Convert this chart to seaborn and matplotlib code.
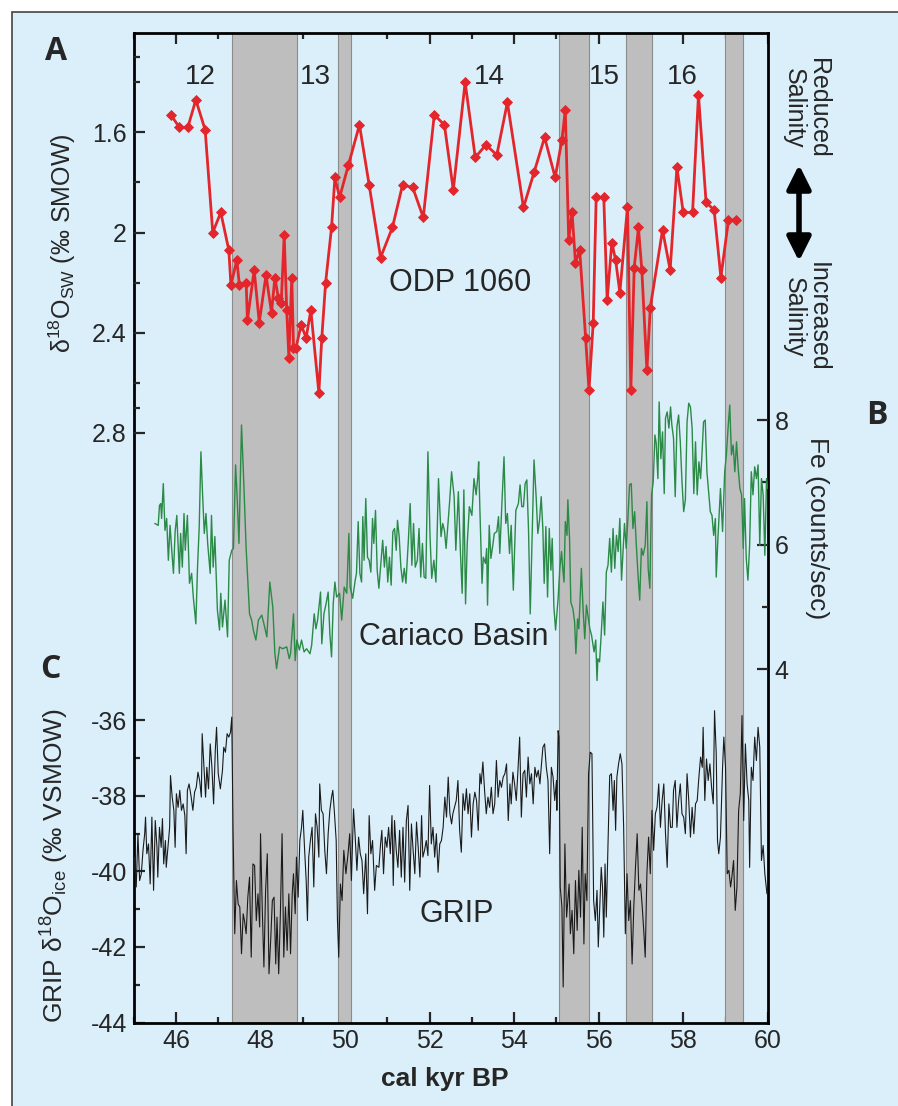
import numpy as np
import pandas as pd
import matplotlib
matplotlib.use("Agg")
import matplotlib.pyplot as plt
from matplotlib.patches import Rectangle, FancyArrowPatch
import seaborn as sns

# ------------------------------------------------------------
# Data
# ------------------------------------------------------------

# ODP 1060 seawater d18O (permil SMOW)
ODP_AGE = [45.88, 46.08, 46.28, 46.47, 46.69, 46.87, 47.06, 47.25, 47.30, 47.44,
           47.50, 47.66, 47.69, 47.85, 47.97, 48.13, 48.26, 48.34, 48.42, 48.49,
           48.56, 48.62, 48.67, 48.74, 48.78, 48.84, 48.96, 49.08, 49.19, 49.38,
           49.45, 49.54, 49.68, 49.76, 49.87, 50.08, 50.34, 50.57, 50.84, 51.12,
           51.36, 51.60, 51.85, 52.11, 52.35, 52.56, 52.84, 53.08, 53.33, 53.59,
           53.84, 54.22, 54.47, 54.72, 54.97, 55.13, 55.21, 55.29, 55.37, 55.45,
           55.55, 55.69, 55.77, 55.87, 55.94, 56.12, 56.20, 56.31, 56.40, 56.50,
           56.68, 56.76, 56.84, 56.94, 57.02, 57.14, 57.22, 57.51, 57.69, 57.85,
           58.00, 58.22, 58.36, 58.54, 58.73, 58.89, 59.07, 59.25]
ODP_D18O = [1.53, 1.58, 1.58, 1.47, 1.59, 2.00, 1.92, 2.07, 2.21, 2.11,
            2.21, 2.20, 2.35, 2.15, 2.36, 2.17, 2.32, 2.18, 2.26, 2.28,
            2.01, 2.31, 2.50, 2.18, 2.46, 2.46, 2.37, 2.42, 2.31, 2.64,
            2.42, 2.20, 1.98, 1.78, 1.86, 1.73, 1.57, 1.81, 2.10, 1.98,
            1.81, 1.82, 1.94, 1.53, 1.57, 1.83, 1.40, 1.70, 1.65, 1.69,
            1.48, 1.90, 1.76, 1.62, 1.78, 1.63, 1.51, 2.03, 1.92, 2.12,
            2.07, 2.42, 2.63, 2.36, 1.86, 1.86, 2.27, 2.04, 2.11, 2.24,
            1.90, 2.63, 2.14, 1.98, 2.15, 2.55, 2.30, 1.99, 2.15, 1.74,
            1.92, 1.92, 1.45, 1.88, 1.91, 2.18, 1.95, 1.95]

# Cariaco Basin Fe (counts/sec)
FE_AGE = [45.50, 45.58, 45.61, 45.64, 45.66, 45.70, 45.74, 45.78, 45.82, 45.86,
          45.90, 45.94, 45.98, 46.02, 46.06, 46.08, 46.11, 46.15, 46.19, 46.22,
          46.27, 46.32, 46.37, 46.41, 46.47, 46.51, 46.55, 46.59, 46.63, 46.67,
          46.71, 46.75, 46.81, 46.84, 46.88, 46.92, 46.98, 47.03, 47.06, 47.10,
          47.16, 47.22, 47.26, 47.32, 47.36, 47.41, 47.45, 47.49, 47.55, 47.59,
          47.66, 47.69, 47.74, 47.79, 47.83, 47.89, 47.95, 48.03, 48.08, 48.15,
          48.22, 48.29, 48.34, 48.38, 48.45, 48.52, 48.62, 48.68, 48.71, 48.78,
          48.82, 48.86, 48.92, 48.97, 49.03, 49.09, 49.17, 49.21, 49.27, 49.31,
          49.35, 49.42, 49.45, 49.50, 49.55, 49.60, 49.64, 49.68, 49.72, 49.76,
          49.80, 49.87, 49.92, 49.98, 50.04, 50.09,
          50.12, 50.18, 50.24, 50.27, 50.31, 50.35, 50.39, 50.42, 50.45, 50.49,
          50.53, 50.57, 50.61, 50.65, 50.68, 50.72, 50.76, 50.80, 50.84, 50.89,
          50.93, 50.97, 51.01, 51.05, 51.09, 51.13, 51.17, 51.21, 51.24, 51.28,
          51.32, 51.36, 51.40, 51.44, 51.50, 51.54, 51.58, 51.62, 51.66, 51.71,
          51.75, 51.79, 51.83, 51.87, 51.91, 51.96, 52.01, 52.05, 52.10, 52.15,
          52.21, 52.27, 52.31, 52.35, 52.39, 52.43, 52.47, 52.52, 52.58, 52.62,
          52.68, 52.73, 52.77, 52.81, 52.85, 52.89, 52.94, 53.00, 53.05, 53.10,
          53.14, 53.16, 53.19, 53.24, 53.27, 53.32, 53.35, 53.37, 53.41, 53.45,
          53.49, 53.53, 53.59, 53.63, 53.66, 53.71, 53.76, 53.80, 53.84, 53.89,
          53.93, 53.98, 54.04, 54.10, 54.14, 54.18, 54.22, 54.26, 54.30, 54.34,
          54.38, 54.42, 54.47, 54.52, 54.56, 54.60, 54.64, 54.68, 54.71, 54.75,
          54.79, 54.83, 54.87, 54.90, 54.94, 54.98,
          55.04, 55.08, 55.12, 55.15, 55.18, 55.21, 55.25, 55.27, 55.31, 55.34,
          55.39, 55.43, 55.46, 55.50, 55.53, 55.59, 55.63, 55.67, 55.71, 55.79,
          55.83, 55.89, 55.93, 55.96, 55.98, 56.02, 56.06, 56.10, 56.14, 56.18,
          56.22, 56.26, 56.30, 56.34, 56.38, 56.42, 56.46, 56.50, 56.54, 56.58,
          56.61, 56.65, 56.69, 56.73, 56.77, 56.81, 56.85, 56.89, 56.93, 56.97,
          57.01, 57.05, 57.10, 57.14, 57.17, 57.21, 57.25, 57.29, 57.33, 57.36,
          57.40, 57.43, 57.47, 57.51, 57.55, 57.58, 57.62, 57.66, 57.70, 57.73,
          57.77, 57.81, 57.85, 57.89, 57.93, 57.97, 58.01, 58.05, 58.09, 58.13,
          58.17, 58.21, 58.25, 58.29, 58.33, 58.37, 58.41, 58.44, 58.48, 58.52,
          58.56, 58.60, 58.64, 58.68, 58.72, 58.76, 58.78, 58.82, 58.88, 58.93,
          58.98, 59.02, 59.06, 59.10, 59.14, 59.18, 59.22, 59.26, 59.30, 59.34,
          59.38, 59.42, 59.45, 59.49, 59.53, 59.57, 59.61, 59.65, 59.69, 59.73,
          59.77, 59.81, 59.85, 59.89, 59.93, 59.97, 60.00]
FE_COUNTS = [6.34, 6.31, 6.63, 6.66, 6.42, 6.98, 6.23, 6.42, 5.75, 6.31,
             5.91, 5.54, 6.21, 6.47, 5.86, 5.54, 6.18, 5.64, 6.50, 5.91,
             6.47, 5.38, 5.54, 5.16, 4.73, 5.64, 6.29, 7.49, 6.80, 6.18,
             6.50, 6.02, 5.54, 6.47, 5.64, 6.13, 4.95, 4.63, 5.22, 4.68,
             5.11, 4.52, 5.75, 5.91, 5.94, 7.28, 6.71, 6.02, 7.92, 7.25,
             5.94, 5.54, 4.89, 4.79, 4.63, 4.47, 4.79, 4.87, 4.73, 4.52,
             5.40, 5.00, 4.25, 4.01, 4.36, 4.33, 4.36, 4.17, 4.25, 4.89,
             4.14, 4.47, 4.31, 4.47, 4.28, 4.33, 4.25, 4.39, 4.89, 4.65,
             4.79, 5.24, 4.41, 4.89, 5.05, 5.24, 4.57, 4.20, 5.05, 5.40,
             5.16, 5.22, 4.79, 5.32, 5.22, 6.18,
             5.32, 5.14, 5.43, 5.54, 6.37, 5.54, 5.40, 6.45, 5.75, 6.74,
             5.80, 5.75, 5.56, 6.42, 6.02, 6.55, 5.59, 5.30, 5.64, 6.07,
             5.64, 5.97, 5.40, 5.80, 5.35, 6.21, 6.26, 5.91, 6.39, 6.13,
             5.64, 5.40, 5.62, 5.38, 6.10, 6.66, 5.67, 6.34, 5.64, 5.75,
             6.26, 5.48, 6.02, 5.48, 5.46, 7.49, 6.13, 5.46, 5.75, 5.40,
             7.06, 6.13, 6.34, 6.23, 5.94, 6.29, 6.66, 7.17, 6.77, 5.91,
             6.85, 5.86, 5.22, 6.88, 5.05, 6.02, 6.61, 6.47, 7.06, 6.80,
             7.09, 7.33, 6.55, 5.38, 5.80, 5.70, 5.94, 5.03, 6.31, 5.78,
             5.97, 6.18, 6.21, 6.45, 5.86, 6.66, 7.41, 6.34, 6.50, 5.86,
             6.31, 5.27, 6.55, 6.66, 6.96, 6.61, 6.61, 6.98, 7.04, 6.23,
             4.89, 6.02, 7.36, 6.77, 6.18, 6.39, 6.77, 6.23, 5.38, 6.29,
             5.16, 6.26, 5.59, 6.10, 5.00, 4.63,
             5.14, 5.62, 5.89, 5.62, 5.40, 6.37, 6.15, 6.72, 6.10, 5.08,
             4.97, 4.76, 4.25, 4.81, 4.65, 5.62, 4.97, 4.49, 5.03, 4.65,
             4.55, 4.28, 4.47, 3.82, 4.17, 4.12, 4.57, 5.08, 4.55, 5.56,
             5.67, 6.10, 5.56, 6.26, 5.62, 6.15, 5.89, 6.42, 5.43, 5.94,
             6.34, 5.94, 6.42, 6.96, 6.98, 6.26, 6.53, 5.99, 5.51, 5.11,
             5.94, 5.83, 5.99, 6.69, 5.62, 5.30, 6.80, 7.01, 7.76, 7.63,
             7.06, 8.29, 7.38, 7.81, 6.82, 8.03, 8.13, 7.87, 8.21, 7.92,
             7.71, 6.77, 7.89, 8.08, 7.65, 7.01, 6.53, 6.72, 7.97, 8.27,
             8.21, 7.87, 6.82, 7.65, 6.80, 7.33, 7.06, 7.41, 7.97, 8.00,
             7.17, 6.85, 6.53, 6.47, 6.15, 6.42, 5.48, 6.10, 6.90, 6.21,
             7.17, 7.44, 7.87, 8.24, 7.44, 7.60, 7.17, 7.65, 7.22, 6.90,
             6.80, 5.94, 6.74, 5.78, 5.43, 5.99, 7.17, 6.80, 7.25, 7.06,
             7.28, 5.99, 7.06, 6.80, 5.83, 7.06, 6.90]

# GRIP ice d18O (permil VSMOW)
GRIP_AGE = [45.00, 45.02, 45.06, 45.10, 45.14, 45.18, 45.22, 45.26, 45.28, 45.31,
            45.35, 45.39, 45.43, 45.47, 45.51, 45.55, 45.57, 45.61, 45.65, 45.68,
            45.71, 45.75, 45.77, 45.81, 45.85, 45.87, 45.91, 45.95, 45.98, 46.01,
            46.05, 46.09, 46.13, 46.17, 46.21, 46.24, 46.27, 46.31, 46.36, 46.40,
            46.44, 46.48, 46.52, 46.56, 46.60, 46.62, 46.66, 46.70, 46.73, 46.77,
            46.81, 46.85, 46.89, 46.93, 46.96, 47.00, 47.05, 47.10, 47.13, 47.17,
            47.21, 47.25, 47.29, 47.32, 47.35, 47.39, 47.43, 47.47, 47.51, 47.55,
            47.59, 47.62, 47.66, 47.70, 47.74, 47.78, 47.82, 47.86, 47.90, 47.94,
            47.98, 48.00, 48.04, 48.08, 48.12, 48.16, 48.20, 48.24, 48.28, 48.32,
            48.36, 48.39, 48.43, 48.47, 48.51, 48.55, 48.59, 48.63, 48.67, 48.71,
            48.75, 48.78, 48.82, 48.85, 48.89, 48.93, 48.97, 49.00, 49.04, 49.08,
            49.11, 49.14, 49.18, 49.22, 49.26, 49.30, 49.34, 49.38, 49.40, 49.44,
            49.48, 49.52, 49.56, 49.60, 49.64, 49.68, 49.71, 49.75, 49.79, 49.82,
            49.85, 49.89, 49.93, 49.97,
            50.02, 50.07, 50.11, 50.15, 50.20, 50.24, 50.28, 50.32, 50.36,
            50.40, 50.44, 50.49, 50.53, 50.57, 50.61, 50.65, 50.70, 50.74, 50.80,
            50.84, 50.87, 50.91, 50.95, 50.99, 51.03, 51.07, 51.11, 51.14, 51.17,
            51.21, 51.25, 51.29, 51.33, 51.37, 51.41, 51.45, 51.49, 51.53, 51.57,
            51.61, 51.65, 51.69, 51.73, 51.77, 51.81, 51.84, 51.88, 51.92, 51.96,
            52.00, 52.04, 52.08, 52.12, 52.16, 52.20, 52.24, 52.28, 52.32, 52.36,
            52.40, 52.44, 52.48, 52.52, 52.55, 52.59, 52.63, 52.67, 52.71, 52.75,
            52.79, 52.83, 52.87, 52.91, 52.95, 52.99, 53.03, 53.07, 53.11, 53.15,
            53.19, 53.22, 53.26, 53.30, 53.34, 53.38, 53.42, 53.46, 53.50, 53.54,
            53.58, 53.62, 53.66, 53.70, 53.74, 53.78, 53.82, 53.86, 53.90, 53.93,
            53.97, 54.01, 54.05, 54.09, 54.13, 54.17, 54.21, 54.25, 54.29, 54.33,
            54.37, 54.41, 54.45, 54.49, 54.53, 54.57, 54.61, 54.64, 54.68, 54.72,
            54.76, 54.80, 54.84, 54.88,
            54.92, 54.96, 55.00, 55.01, 55.04, 55.06, 55.09, 55.13, 55.16, 55.20,
            55.24, 55.27, 55.30, 55.33, 55.37, 55.41, 55.45, 55.49, 55.53, 55.57,
            55.61, 55.65, 55.68, 55.72, 55.76, 55.80, 55.84, 55.88, 55.92, 55.96,
            55.99, 56.02, 56.06, 56.09, 56.12, 56.15, 56.18, 56.22, 56.26, 56.30,
            56.34, 56.37, 56.40, 56.43, 56.47, 56.51, 56.55, 56.59, 56.63, 56.67,
            56.71, 56.75, 56.79, 56.83, 56.87, 56.91, 56.95, 56.99, 57.03, 57.07,
            57.10, 57.14, 57.18, 57.22, 57.26, 57.30, 57.34, 57.38, 57.42, 57.46,
            57.50, 57.54, 57.58, 57.62, 57.66, 57.70, 57.74, 57.77, 57.81, 57.85,
            57.89, 57.93, 57.97, 58.01, 58.05, 58.09, 58.13, 58.17, 58.21, 58.25,
            58.29, 58.33, 58.37, 58.41, 58.45, 58.47, 58.51, 58.55, 58.59, 58.63,
            58.67, 58.71, 58.74, 58.78, 58.81, 58.84, 58.88, 58.93, 58.96, 59.00,
            59.04, 59.08, 59.12, 59.15, 59.19, 59.23, 59.27, 59.31, 59.35, 59.39,
            59.43, 59.47, 59.51, 59.55, 59.57, 59.61, 59.65, 59.69, 59.73, 59.77,
            59.81, 59.85, 59.89, 59.93, 59.98]
GRIP_D18O = [-40.06, -39.62, -40.41, -39.00, -40.24, -40.06, -39.44, -39.00, -38.56, -39.53,
             -39.27, -40.33, -38.56, -40.50, -38.65, -39.36, -40.15, -38.83, -39.36, -38.60,
             -39.80, -39.18, -39.89, -39.36, -38.83, -37.46, -38.03, -38.38, -39.36, -37.94,
             -38.30, -37.85, -38.38, -38.21, -38.52, -39.53, -37.85, -37.68, -38.03, -38.38,
             -37.90, -37.77, -37.37, -37.59, -38.03, -36.35, -37.19, -38.03, -37.24, -37.81,
             -36.62, -37.24, -38.21, -36.79, -36.18, -37.41, -37.81, -37.32, -36.71, -36.84,
             -36.35, -36.44, -36.31, -35.91, -38.91, -41.65, -40.24, -40.86, -40.94, -42.18,
             -41.12, -41.30, -41.65, -40.68, -40.15, -42.27, -39.80, -39.84, -41.30, -40.59,
             -41.47, -39.00, -40.94, -42.53, -40.50, -39.53, -42.71, -41.83, -40.77, -40.68,
             -42.45, -41.21, -42.71, -41.12, -39.00, -42.27, -40.94, -42.09, -40.59, -42.18,
             -40.59, -40.06, -41.12, -39.62, -40.68, -39.18, -38.83, -38.38, -39.36, -40.24,
             -41.30, -39.62, -39.18, -38.83, -40.41, -38.47, -38.83, -39.62, -37.68, -38.38,
             -38.47, -39.44, -40.06, -39.00, -38.38, -38.03, -37.85, -38.47, -39.18, -41.30,
             -42.27, -40.33, -40.77, -39.44,
             -40.06, -39.53, -39.00, -40.24, -38.34, -39.09, -39.97, -39.09, -39.53,
             -39.71, -40.59, -39.53, -41.12, -38.52, -39.53, -39.18, -40.50, -39.84, -39.89,
             -39.27, -38.91, -40.06, -39.09, -39.36, -38.83, -39.53, -38.52, -40.37, -38.65,
             -39.44, -39.89, -38.91, -40.15, -38.83, -40.28, -38.65, -38.25, -40.50, -38.74,
             -39.44, -40.06, -38.69, -39.36, -40.15, -38.52, -39.62, -39.44, -39.18, -39.58,
             -37.72, -39.27, -38.83, -39.62, -39.00, -40.02, -39.27, -39.18, -38.83, -38.03,
             -38.56, -37.50, -38.47, -38.74, -38.47, -38.30, -38.12, -37.59, -38.91, -39.49,
             -37.94, -38.38, -37.81, -38.47, -37.94, -39.09, -38.21, -37.90, -38.12, -38.91,
             -37.41, -37.68, -37.10, -37.85, -38.47, -38.03, -38.30, -37.77, -38.47, -38.21,
             -37.06, -38.03, -37.59, -37.77, -37.50, -37.41, -37.15, -38.65, -37.68, -38.21,
             -37.37, -37.68, -38.12, -37.32, -36.44, -38.56, -37.41, -37.32, -38.03, -36.97,
             -37.68, -37.41, -38.21, -37.24, -37.50, -37.32, -37.68, -37.24, -36.71, -36.62,
             -37.24, -37.59, -39.53, -37.24,
             -37.50, -38.12, -37.59, -38.38, -36.27, -36.44, -40.41, -40.94, -43.06, -39.27,
             -41.21, -40.77, -40.33, -41.65, -41.03, -42.18, -40.24, -41.56, -39.97, -41.21,
             -38.83, -41.92, -40.06, -40.77, -37.41, -36.84, -36.88, -40.77, -41.30, -40.50,
             -42.00, -41.12, -39.89, -40.41, -41.74, -39.80, -41.21, -39.27, -37.46, -37.41,
             -38.38, -37.59, -38.91, -37.50, -37.15, -36.88, -37.15, -38.83, -41.65, -40.06,
             -41.30, -40.77, -42.45, -40.94, -39.89, -39.00, -40.50, -40.33, -40.94, -41.65,
             -42.27, -40.06, -39.09, -40.06, -38.38, -39.44, -38.47, -38.30, -37.68, -38.83,
             -38.12, -37.68, -39.00, -39.89, -38.21, -38.83, -38.83, -37.85, -37.59, -38.83,
             -38.12, -37.68, -38.47, -38.56, -39.00, -37.41, -38.12, -39.09, -38.30, -39.00,
             -38.21, -38.12, -37.50, -36.97, -37.24, -36.18, -38.12, -37.02, -37.59, -37.15,
             -37.77, -38.21, -35.74, -36.88, -39.18, -39.53, -39.09, -37.24, -36.44, -37.24,
             -40.06, -39.97, -40.41, -40.15, -39.71, -41.03, -40.41, -38.38, -37.94, -35.87,
             -38.65, -36.62, -37.68, -38.12, -39.89, -37.24, -37.59, -36.44, -37.06, -36.18,
             -36.71, -39.71, -39.31, -40.06, -40.59]

# Stadial intervals (cal kyr BP)
BAND_START = [47.33, 49.83, 55.05, 56.65, 58.98]
BAND_END = [48.87, 50.15, 55.78, 57.25, 59.41]

# Interstadial numbers
IS_LABELS = ["12", "13", "14", "15", "16"]
IS_AGE = [46.58, 49.30, 53.41, 56.13, 57.98]

X_TICKS = [46, 48, 50, 52, 54, 56, 58, 60]
SW_TICKS = [1.6, 2.0, 2.4, 2.8]
SW_TICK_LABELS = ["1.6", "2", "2.4", "2.8"]
FE_TICKS = [4, 6, 8]
GRIP_TICKS = [-44, -42, -40, -38, -36]

BG = "#dbeffa"
RED = "#e3262b"
GREEN = "#2b8a46"
BAND = "#bebebe"

W, H = 898, 1106


def px(x, y):
    return x / W, 1 - y / H


def main():
    sns.set_style("ticks")
    plt.rcParams["font.family"] = ["Liberation Sans", "DejaVu Sans"]
    plt.rcParams["mathtext.fontset"] = "custom"
    plt.rcParams["mathtext.rm"] = "Liberation Sans"
    plt.rcParams["mathtext.it"] = "Liberation Sans:italic"
    plt.rcParams["mathtext.default"] = "regular"
    plt.rcParams["axes.unicode_minus"] = False

    fig = plt.figure(figsize=(W / 100, H / 100), dpi=100)
    fig.patch.set_facecolor("white")
    frame = Rectangle((12 / W, -0.05), 1.2, 1 - 12 / H + 0.05,
                      transform=fig.transFigure, facecolor=BG,
                      edgecolor="#444444", lw=1.2, zorder=-5)
    fig.add_artist(frame)

    ax = fig.add_axes([133.7 / W, 1 - 1022.5 / H, 634.1 / W, 989.5 / H])
    ax.set_facecolor("none")
    ax_sw = ax.twinx()
    ax_fe = ax.twinx()

    # stadial bands
    for a, b in zip(BAND_START, BAND_END):
        ax.axvspan(a, b, facecolor=BAND, edgecolor="#8c8c8c", lw=0.8, zorder=1)

    # GRIP
    df_grip = pd.DataFrame({"age": GRIP_AGE, "d18o": GRIP_D18O})
    sns.lineplot(data=df_grip, x="age", y="d18o", ax=ax, color="#1a1a1a",
                 lw=0.8, sort=False, estimator=None, errorbar=None, zorder=3)

    # Cariaco Fe
    df_fe = pd.DataFrame({"age": FE_AGE, "fe": FE_COUNTS})
    sns.lineplot(data=df_fe, x="age", y="fe", ax=ax_fe, color=GREEN,
                 lw=1.0, sort=False, estimator=None, errorbar=None)

    # ODP 1060
    df_odp = pd.DataFrame({"age": ODP_AGE, "d18o": ODP_D18O})
    sns.lineplot(data=df_odp, x="age", y="d18o", ax=ax_sw, color=RED,
                 lw=2.0, marker="D", markersize=5, markeredgecolor=RED,
                 markeredgewidth=0.6, sort=False, estimator=None, errorbar=None)

    # limits
    ax.set_xlim(45, 60)
    ax.set_ylim(-44, -17.79)
    ax_sw.set_ylim(5.156, 1.203)
    ax_fe.set_ylim(-1.667, 14.21)

    for a in (ax, ax_sw, ax_fe):
        a.set_xlabel("")
        a.set_ylabel("")

    # ticks: bottom / top + GRIP (left)
    ax.set_xticks(X_TICKS)
    ax.set_xticklabels([str(t) for t in X_TICKS])
    ax.set_xticks(np.arange(45, 60, 1), minor=True)
    ax.set_yticks(GRIP_TICKS)
    ax.set_yticklabels([str(t) for t in GRIP_TICKS])
    ax.set_yticks([-43, -41, -39, -37], minor=True)
    ax.tick_params(axis="both", which="both", direction="in", width=1.6,
                   labelsize=18, pad=5, top=True, right=False, left=True)
    ax.tick_params(which="major", length=8)
    ax.tick_params(which="minor", length=4)
    for s in ax.spines.values():
        s.set_visible(True)
        s.set_linewidth(2)
        s.set_color("black")

    # d18O_sw (left, upper)
    ax_sw.yaxis.tick_left()
    ax_sw.set_yticks(SW_TICKS)
    ax_sw.set_yticklabels(SW_TICK_LABELS)
    ax_sw.set_yticks([1.3, 1.4, 1.8, 2.2, 2.6, 2.7], minor=True)
    ax_sw.tick_params(axis="y", which="both", direction="in", width=1.6,
                      labelsize=18, pad=5, left=True, right=False)
    ax_sw.tick_params(which="major", length=8)
    ax_sw.tick_params(which="minor", length=4)
    for s in ax_sw.spines.values():
        s.set_visible(False)

    # Fe (right, middle)
    ax_fe.set_yticks(FE_TICKS)
    ax_fe.set_yticklabels([str(t) for t in FE_TICKS])
    ax_fe.set_yticks([5, 7], minor=True)
    ax_fe.tick_params(axis="y", which="both", direction="in", width=1.6,
                      labelsize=18, pad=5, right=True, left=False)
    ax_fe.tick_params(which="major", length=8)
    ax_fe.tick_params(which="minor", length=4)
    for s in ax_fe.spines.values():
        s.set_visible(False)

    # interstadial numbers and record names
    for lab, age in zip(IS_LABELS, IS_AGE):
        ax_sw.text(age, 1.38, lab, fontsize=20, ha="center", va="center")
    ax_sw.text(52.72, 2.20, "ODP 1060", fontsize=22, ha="center", va="center")
    ax_fe.text(52.56, 4.52, "Cariaco Basin", fontsize=22, ha="center", va="center")
    ax.text(52.64, -41.13, "GRIP", fontsize=22, ha="center", va="center")

    # axis labels
    fig.text(*px(62, 243), r"$\delta^{18}$O$_{SW}$ (‰ SMOW)", rotation=90,
             fontsize=18, ha="center", va="center")
    fig.text(*px(55, 866), r"GRIP $\delta^{18}$O$_{ice}$ (‰ VSMOW)", rotation=90,
             fontsize=19, ha="center", va="center")
    fig.text(*px(817, 528), "Fe (counts/sec)", rotation=-90,
             fontsize=19, ha="center", va="center")
    fig.text(*px(445, 1079), "cal kyr BP", fontsize=19, fontweight="bold",
             ha="center", va="center")

    # salinity annotation
    fig.text(*px(806, 108), "Reduced\nSalinity", rotation=-90, fontsize=18,
             ha="center", va="center", linespacing=1.0, multialignment="center")
    fig.text(*px(806, 317), "Increased\nSalinity", rotation=-90, fontsize=18,
             ha="center", va="center", linespacing=1.0, multialignment="center")
    fig.add_artist(FancyArrowPatch(
        px(799, 162), px(799, 264), transform=fig.transFigure,
        arrowstyle="<|-|>", mutation_scale=36, lw=4, color="black"))

    # panel letters
    for lab, (x, y) in zip(["A", "B", "C"], [(56, 52), (877, 415), (50, 670)]):
        fig.text(*px(x, y), lab, fontsize=23, fontweight="bold",
                 family=["Open Sans", "DejaVu Sans"], ha="center", va="center")

    fig.savefig("out.png", dpi=100, facecolor="white")
    plt.close(fig)


if __name__ == "__main__":
    main()
